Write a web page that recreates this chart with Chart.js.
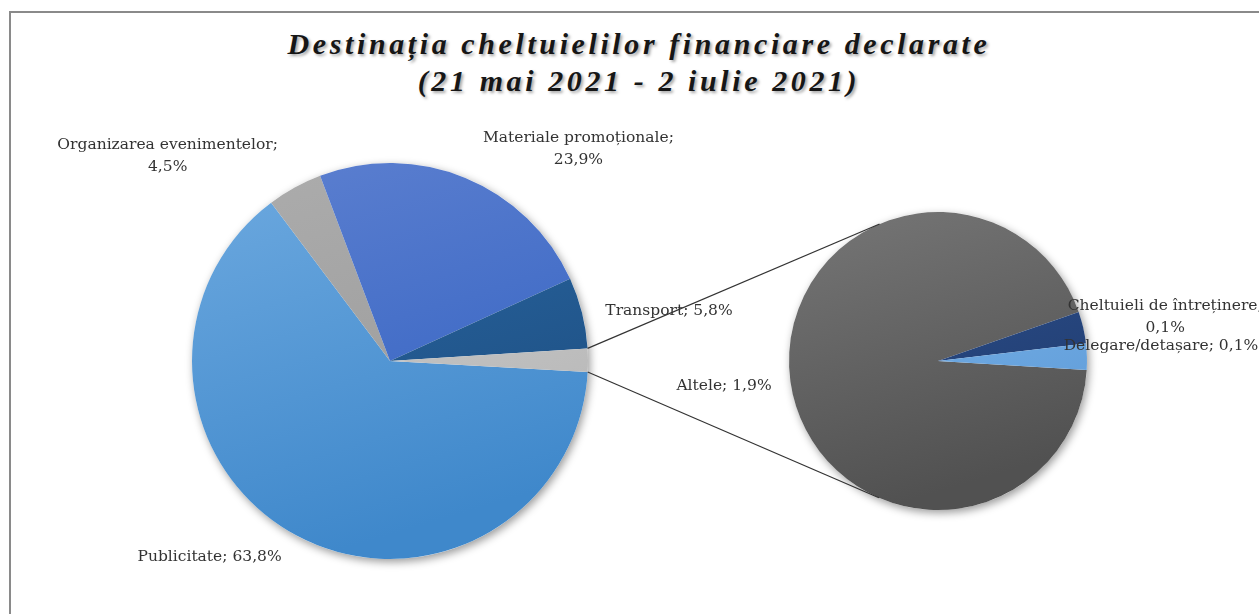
<!DOCTYPE html>
<html>
<head>
    <title>Destinația cheltuielilor financiare declarate</title>
    <script src="https://cdn.jsdelivr.net/npm/chart.js"></script>
    <style>
        body {
            margin: 0;
            width: 1259px;
            height: 614px;
            overflow: hidden;
            background: #ffffff;
            position: relative;
        }
        #frame {
            position: absolute;
            left: 9px;
            top: 11px;
            width: 1300px;
            height: 700px;
            border: 2px solid #8a8a8a;
        }
        #title {
            position: absolute;
            left: 0;
            top: 25px;
            width: 1278px;
            text-align: center;
            font-family: "Liberation Serif", serif;
            font-weight: bold;
            font-style: italic;
            font-size: 30px;
            line-height: 37px;
            letter-spacing: 3.6px;
            color: #161616;
            text-shadow: 2px 2px 3px rgba(0, 0, 0, 0.35);
        }
        canvas {
            position: absolute;
            left: 0;
            top: 0;
        }
    </style>
</head>
<body>
    <div id="frame"></div>
    <div id="title">Destinația cheltuielilor financiare declarate<br>(21 mai 2021 - 2 iulie 2021)</div>
    <canvas id="mainPie" width="1259" height="614"></canvas>
    <canvas id="subPie" width="1259" height="614"></canvas>

    <script>
        // date: plăcinta principală (în sensul acelor de ceasornic)
        const categories = ['Publicitate', 'Organizarea evenimentelor', 'Materiale promoționale', 'Transport', 'Altele'];
        const shares = [63.8, 4.5, 23.9, 5.8, 1.9];

        // detalierea felii "Altele"
        const otherCategories = ['Restul', 'Cheltuieli de întreținere', 'Delegare/detașare'];
        const otherShares = [1.78, 0.066, 0.054];

        // culori (sus -> jos, pentru gradient)
        const mainTop = ['#6eaae0', '#adadad', '#5d80d0', '#2c6aa6', '#d2d2d2'];
        const mainBottom = ['#3f88cb', '#999999', '#3362c2', '#1c4d80', '#b4b4b4'];
        const subTop = ['#767676', '#2f5290', '#80b8ea'];
        const subBottom = ['#515151', '#1f3b6e', '#5d9ad8'];

        // poziția etichetelor față de marginea exterioară a feliei
        const mainLabelLayout = [
            { dx: -87, dy: 21, split: false },
            { dx: -127, dy: -31, split: true },
            { dx: 113, dy: -29, split: true },
            { dx: 87, dy: -2, split: false },
            { dx: 136, dy: 26, split: false }
        ];
        const subLabelLayout = [
            null,
            { dx: 82, dy: -11, split: true },
            { dx: 74, dy: -11, split: false }
        ];

        function gradientFill(tops, bottoms) {
            return function(context) {
                const chart = context.chart;
                const area = chart.chartArea;
                if (!area) return bottoms[context.dataIndex];
                const g = chart.ctx.createLinearGradient(area.left, area.top, area.left + area.width * 0.3, area.bottom);
                g.addColorStop(0, tops[context.dataIndex]);
                g.addColorStop(1, bottoms[context.dataIndex]);
                return g;
            };
        }

        const fmt = v => v.toFixed(1).replace('.', ',') + '%';

        const shadowPlugin = {
            id: 'pieShadow',
            beforeDatasetsDraw(chart) {
                const arc = chart.getDatasetMeta(0).data[0];
                const ctx = chart.ctx;
                ctx.save();
                ctx.beginPath();
                ctx.arc(arc.x, arc.y, arc.outerRadius, 0, Math.PI * 2);
                ctx.shadowColor = 'rgba(0, 0, 0, 0.4)';
                ctx.shadowBlur = 9;
                ctx.shadowOffsetX = 2;
                ctx.shadowOffsetY = 3;
                ctx.fillStyle = '#ffffff';
                ctx.fill();
                ctx.restore();
            }
        };

        const labelPlugin = {
            id: 'sliceLabels',
            afterDatasetsDraw(chart, args, opts) {
                const ctx = chart.ctx;
                const meta = chart.getDatasetMeta(0);
                const values = chart.data.datasets[0].data;
                ctx.save();
                ctx.font = '15.5px "DejaVu Serif", serif';
                ctx.fillStyle = '#333333';
                ctx.textAlign = 'center';
                ctx.textBaseline = 'middle';
                meta.data.forEach((arc, i) => {
                    const lay = opts.layout[i];
                    if (!lay) return;
                    const mid = (arc.startAngle + arc.endAngle) / 2;
                    const x = arc.x + Math.cos(mid) * arc.outerRadius + lay.dx;
                    const y = arc.y + Math.sin(mid) * arc.outerRadius + lay.dy;
                    const name = chart.data.labels[i];
                    if (lay.split) {
                        ctx.fillText(name + ';', x, y - 11);
                        ctx.fillText(fmt(values[i]), x, y + 11);
                    } else {
                        ctx.fillText(name + '; ' + fmt(values[i]), x, y);
                    }
                });
                ctx.restore();
            }
        };

        const mainChart = new Chart(document.getElementById('mainPie'), {
            type: 'pie',
            data: {
                labels: categories,
                datasets: [{
                    data: shares,
                    backgroundColor: gradientFill(mainTop, mainBottom),
                    borderWidth: 0,
                    hoverOffset: 0
                }]
            },
            options: {
                responsive: false,
                animation: false,
                rotation: 93.2,
                layout: { padding: { left: 192, right: 671, top: 163, bottom: 55 } },
                plugins: {
                    legend: { display: false },
                    tooltip: { enabled: false },
                    sliceLabels: { layout: mainLabelLayout }
                }
            },
            plugins: [shadowPlugin, labelPlugin]
        });

        // linii de legătură: tangente din colțurile feliei "Altele" la a doua plăcintă
        const connectorPlugin = {
            id: 'connectors',
            afterDraw(chart) {
                const src = mainChart.getDatasetMeta(0).data[categories.length - 1];
                const dst = chart.getDatasetMeta(0).data[0];
                const ctx = chart.ctx;
                const cx = dst.x, cy = dst.y, R = dst.outerRadius;
                [src.startAngle, src.endAngle].forEach((a, k) => {
                    const px = src.x + Math.cos(a) * src.outerRadius;
                    const py = src.y + Math.sin(a) * src.outerRadius;
                    const d = Math.hypot(px - cx, py - cy);
                    const phi = Math.atan2(py - cy, px - cx);
                    const alpha = Math.acos(R / d);
                    const t1 = [cx + R * Math.cos(phi + alpha), cy + R * Math.sin(phi + alpha)];
                    const t2 = [cx + R * Math.cos(phi - alpha), cy + R * Math.sin(phi - alpha)];
                    const t = k === 0 ? (t1[1] < t2[1] ? t1 : t2) : (t1[1] > t2[1] ? t1 : t2);
                    ctx.save();
                    ctx.strokeStyle = '#333333';
                    ctx.lineWidth = 1.2;
                    ctx.beginPath();
                    ctx.moveTo(px, py);
                    ctx.lineTo(t[0], t[1]);
                    ctx.stroke();
                    ctx.restore();
                });
            }
        };

        const subChart = new Chart(document.getElementById('subPie'), {
            type: 'pie',
            data: {
                labels: otherCategories,
                datasets: [{
                    data: otherShares,
                    backgroundColor: gradientFill(subTop, subBottom),
                    borderWidth: 0,
                    hoverOffset: 0
                }]
            },
            options: {
                responsive: false,
                animation: false,
                rotation: 93.5,
                layout: { padding: { left: 789, right: 172, top: 212, bottom: 104 } },
                plugins: {
                    legend: { display: false },
                    tooltip: { enabled: false },
                    sliceLabels: { layout: subLabelLayout }
                }
            },
            plugins: [shadowPlugin, labelPlugin, connectorPlugin]
        });
    </script>
</body>
</html>
